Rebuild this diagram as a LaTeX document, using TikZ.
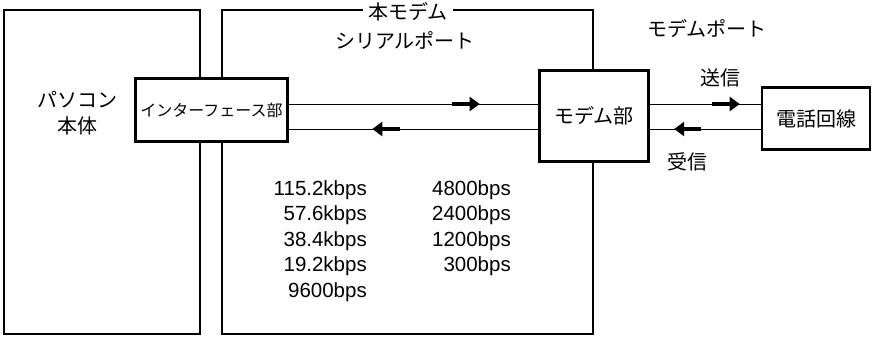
\documentclass[tikz,border=0pt]{standalone}
\usepackage{fontspec}
\setmainfont{Liberation Sans}
\newfontfamily\jp{Noto Sans CJK JP}
\usetikzlibrary{arrows.meta}

\begin{document}
\begin{tikzpicture}[x=1pt, y=-1pt,
  frame/.style={draw, line width=1.2pt, inner sep=0pt},
  block/.style={draw, line width=2.4pt, fill=white, inner sep=0pt, font=\jp\fontsize{20}{22}\selectfont},
  lbl/.style={font=\jp\fontsize{20}{26}\selectfont, align=center, inner sep=1pt},
  rate/.style={font=\fontsize{20.5}{22}\selectfont, anchor=east, inner sep=0pt},
  wire/.style={line width=1pt},
  fat/.style={line width=4.5pt, -{Triangle[length=10pt,width=14pt]}}]
  \useasboundingbox (0,0) rectangle (872,337);

  % outer frames
  \node[frame, minimum width=196pt, minimum height=324pt] (pc) at (102,172) {};
  \node[frame, minimum width=371pt, minimum height=324pt] (port) at (407.5,172) {};
  \node[lbl, fill=white, inner xsep=5pt, inner ysep=0pt] (t1) at (408,12) {本モデム};
  \node[lbl] (t2) at (405,40) {シリアルポート};
  \node[lbl] (pcname) at (77,113) {パソコン\\本体};

  % blocks
  \node[block, minimum width=152pt, minimum height=63pt, font=\jp\fontsize{16}{18}\selectfont] (iface) at (211.5,110) {インターフェース部};
  \node[block, minimum width=109pt, minimum height=91pt] (modem) at (594,116) {モデム部};
  \node[block, minimum width=108pt, minimum height=62pt] (line) at (816,118.5) {電話回線};

  % wires
  \draw[wire] (iface.east |- 0,104) -- coordinate[pos=0.655](a1) coordinate[pos=0.765](a2) (modem.west |- 0,104);
  \draw[wire] (iface.east |- 0,129) -- coordinate[pos=0.335](b1) coordinate[pos=0.445](b2) (modem.west |- 0,129);
  \draw[wire] (modem.east |- 0,104) -- coordinate[pos=0.56](c1) coordinate[pos=0.81](c2) (line.west |- 0,104);
  \draw[wire] (modem.east |- 0,129) -- coordinate[pos=0.22](d1) coordinate[pos=0.46](d2) (line.west |- 0,129);
  \draw[fat] (a1) -- (a2);
  \draw[fat] (b2) -- (b1);
  \draw[fat] (c1) -- (c2);
  \draw[fat] (d2) -- (d1);

  \node[lbl] (mport) at (707,29) {モデムポート};
  \node[lbl] (send) at (720,78) {送信};
  \node[lbl] (recv) at (687,162) {受信};

  % speeds
  \foreach \r [count=\i] in {115.2kbps, 57.6kbps, 38.4kbps, 19.2kbps, 9600bps}
    \node[rate] (l\i) at (367,{164.5+25.5*\i}) {\r};
  \foreach \r [count=\i] in {4800bps, 2400bps, 1200bps, 300bps}
    \node[rate] (r\i) at (511,{164.5+25.5*\i}) {\r};
\end{tikzpicture}
\end{document}
